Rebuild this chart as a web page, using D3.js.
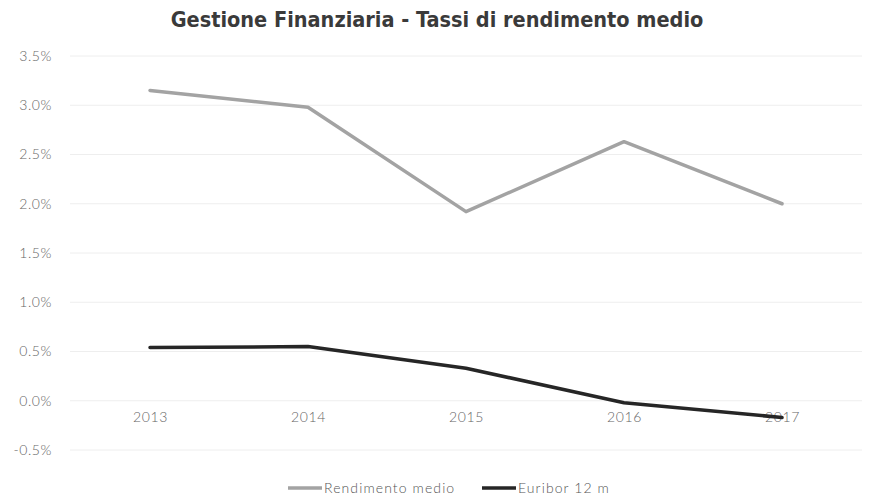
<!DOCTYPE html>
<html>
<head>
<meta charset="utf-8">
<script src="https://cdn.jsdelivr.net/npm/d3@7"></script>
<style>
  body { margin: 0; background: #ffffff; }
</style>
</head>
<body>
<script>
const years = ['2013', '2014', '2015', '2016', '2017'];
const rendimento = [3.15, 2.98, 1.92, 2.63, 2.00];
const euribor = [0.54, 0.55, 0.33, -0.02, -0.17];
const yTicks = [-0.5, 0, 0.5, 1.0, 1.5, 2.0, 2.5, 3.0, 3.5];
const seriesNames = ['Rendimento medio', 'Euribor 12 m'];

const W = 873, H = 501;
const svg = d3.select('body').append('svg')
  .attr('width', W)
  .attr('height', H);

// Title
svg.append('text')
  .attr('x', 437)
  .attr('y', 27)
  .attr('text-anchor', 'middle')
  .attr('font-family', 'DejaVu Sans Condensed, sans-serif')
  .attr('font-weight', 'bold')
  .attr('font-size', 21.5)
  .attr('fill', '#3a3a3a')
  .text('Gestione Finanziaria - Tassi di rendimento medio');

const x = d3.scalePoint().domain(years).range([150, 782]);
const y = d3.scaleLinear().domain([-0.5, 3.5]).range([450, 56]);

// Grid
svg.append('g')
  .selectAll('line')
  .data(yTicks)
  .join('line')
  .attr('x1', 70).attr('x2', 862)
  .attr('y1', d => y(d)).attr('y2', d => y(d))
  .attr('stroke', '#eeeeee')
  .attr('stroke-width', 1);

const tickStyle = sel => sel
  .attr('font-family', 'Lato, sans-serif')
  .attr('font-weight', 300)
  .attr('font-size', 14)
  .attr('letter-spacing', 0.6)
  .attr('fill', '#666');

// Y axis labels
const yAxis = svg.append('g')
  .attr('transform', 'translate(52,0)')
  .call(d3.axisLeft(y).tickValues(yTicks).tickSize(0).tickPadding(0)
    .tickFormat(d => d.toFixed(1) + '%'));
yAxis.select('.domain').remove();
yAxis.selectAll('text').call(tickStyle);

// X axis labels (at y = 0 line)
const xAxis = svg.append('g')
  .attr('transform', `translate(0,${y(0)})`)
  .call(d3.axisBottom(x).tickSize(0).tickPadding(11));
xAxis.select('.domain').remove();
xAxis.selectAll('text').call(tickStyle);

const line = d3.line()
  .x((d, i) => x(years[i]))
  .y(d => y(d));

const colors = ['#a3a3a3', '#262626'];
[rendimento, euribor].forEach((s, i) => {
  svg.append('path')
    .datum(s)
    .attr('d', line)
    .attr('fill', 'none')
    .attr('stroke', colors[i])
    .attr('stroke-width', 3.5)
    .attr('stroke-linejoin', 'round')
    .attr('stroke-linecap', 'round');
});

// Legend
const legendX = [288, 482];
seriesNames.forEach((name, i) => {
  const g = svg.append('g').attr('transform', `translate(${legendX[i]},488)`);
  g.append('line')
    .attr('x1', 0).attr('x2', 34)
    .attr('stroke', colors[i])
    .attr('stroke-width', 3.5);
  g.append('text')
    .attr('x', 36)
    .attr('y', 5)
    .attr('font-family', 'Lato, sans-serif')
    .attr('font-weight', 300)
    .attr('font-size', 14)
    .attr('letter-spacing', 1.1)
    .attr('fill', '#555')
    .text(name);
});
</script>
</body>
</html>
